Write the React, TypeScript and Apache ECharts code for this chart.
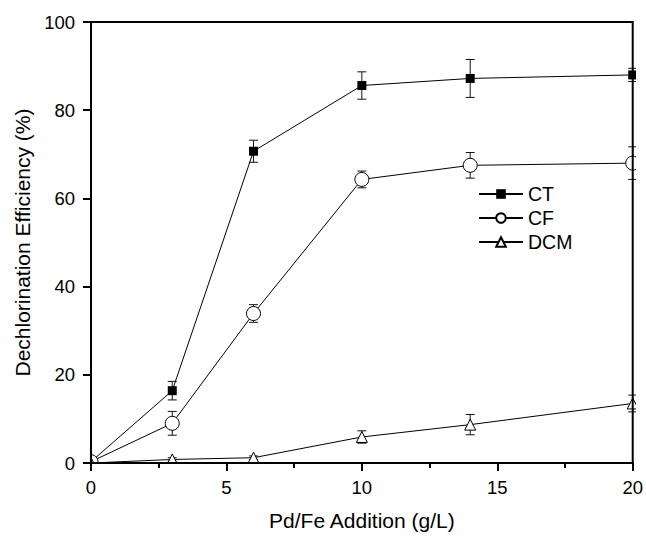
import React, { useEffect, useRef } from "react";
import * as echarts from "echarts";

const xValues = [0, 3, 6, 10, 14, 20];
const ctValues = [0.3, 16.4, 70.7, 85.6, 87.2, 88.0];
const ctErrors = [0, 2.1, 2.5, 3.1, 4.3, 1.5];
const cfValues = [0.3, 9.0, 33.9, 64.3, 67.5, 68.0];
const cfErrors = [0, 2.7, 2.0, 1.9, 2.9, 3.7];
const dcmValues = [0, 0.8, 1.2, 5.9, 8.7, 13.5];
const dcmErrors = [0, 0.4, 0.4, 1.4, 2.3, 1.9];
const seriesNames = ["CT", "CF", "DCM"];
const xTicks = [0, 5, 10, 15, 20];
const yTicks = [0, 20, 40, 60, 80, 100];

const FONT = "'Liberation Sans', Arial, sans-serif";

function pairs(vals: number[]) {
  return xValues.map((x, i) => [x, vals[i]]);
}
function errs(vals: number[], e: number[]) {
  return xValues
    .map((x, i) => [x, vals[i], vals[i] - e[i], vals[i] + e[i]])
    .filter((d, i) => e[i] > 0);
}

function errorSeries(vals: number[], e: number[]) {
  return {
    type: "custom",
    z: 1,
    silent: true,
    data: errs(vals, e),
    encode: { x: 0, y: [1, 2, 3] },
    renderItem: (params: any, api: any) => {
      const x = api.value(0);
      const lo = api.value(2);
      const hi = api.value(3);
      const top = api.coord([x, hi]);
      const bot = api.coord([x, lo]);
      const half = 4.5;
      const style = { stroke: "#111", lineWidth: 1 };
      return {
        type: "group",
        children: [
          { type: "line", shape: { x1: top[0], y1: top[1], x2: bot[0], y2: bot[1] }, style },
          { type: "line", shape: { x1: top[0] - half, y1: top[1], x2: top[0] + half, y2: top[1] }, style },
          { type: "line", shape: { x1: bot[0] - half, y1: bot[1], x2: bot[0] + half, y2: bot[1] }, style },
        ],
      };
    },
  };
}

export default function App() {
  const ref = useRef<HTMLDivElement>(null);
  useEffect(() => {
    if (!ref.current) return;
    const chart = echarts.init(ref.current, null, { renderer: "svg" });
    const white = { fill: "#fff" };
    chart.setOption({
      animation: false,
      backgroundColor: "#fff",
      grid: {
        left: 91,
        right: 11,
        top: 22,
        bottom: 74,
        show: true,
        z: 10,
        borderColor: "#000",
        borderWidth: 2,
        backgroundColor: "transparent",
      },
      legend: {
        data: seriesNames,
        orient: "vertical",
        left: 473,
        top: 179,
        z: 20,
        itemWidth: 44,
        itemHeight: 12,
        itemGap: 4,
        textStyle: { fontFamily: FONT, fontSize: 19.5, color: "#000" },
      },
      graphic: [
        { type: "rect", z: 5, silent: true, shape: { x: 0, y: 0, width: 90, height: 537 }, style: white },
        { type: "rect", z: 5, silent: true, shape: { x: 636, y: 0, width: 10, height: 537 }, style: white },
        { type: "rect", z: 5, silent: true, shape: { x: 0, y: 0, width: 646, height: 21 }, style: white },
        { type: "rect", z: 5, silent: true, shape: { x: 0, y: 464, width: 646, height: 73 }, style: white },
      ],
      xAxis: {
        type: "value",
        min: 0,
        max: 20,
        interval: 5,
        z: 10,
        name: "Pd/Fe Addition (g/L)",
        nameLocation: "middle",
        nameGap: 47,
        nameTextStyle: { fontFamily: FONT, fontSize: 21, color: "#000" },
        axisLine: { show: true, onZero: false, lineStyle: { color: "#000", width: 2 } },
        axisTick: { show: true, inside: false, length: 8, lineStyle: { color: "#000", width: 2 } },
        minorTick: { show: true, splitNumber: 2, length: 5, lineStyle: { color: "#000", width: 2 } },
        axisLabel: {
          fontFamily: FONT,
          fontSize: 18.5,
          color: "#000",
          margin: 15,
          formatter: (v: number) => (xTicks.includes(v) ? String(v) : ""),
        },
        splitLine: { show: false },
      },
      yAxis: {
        type: "value",
        min: 0,
        max: 100,
        interval: 20,
        z: 10,
        name: "Dechlorination Efficiency (%)",
        nameLocation: "middle",
        nameGap: 57,
        nameTextStyle: { fontFamily: FONT, fontSize: 21, color: "#000" },
        axisLine: { show: true, onZero: false, lineStyle: { color: "#000", width: 2 } },
        axisTick: { show: true, inside: false, length: 8, lineStyle: { color: "#000", width: 2 } },
        axisLabel: {
          fontFamily: FONT,
          fontSize: 18.5,
          color: "#000",
          margin: 16,
          formatter: (v: number) => (yTicks.includes(v) ? String(v) : ""),
        },
        splitLine: { show: false },
      },
      series: [
        errorSeries(ctValues, ctErrors),
        errorSeries(cfValues, cfErrors),
        errorSeries(dcmValues, dcmErrors),
        {
          name: "CT",
          type: "line",
          z: 3,
          data: pairs(ctValues),
          symbol: "rect",
          symbolSize: 9,
          showAllSymbol: true,
          clip: false,
          lineStyle: { color: "#000", width: 1 },
          itemStyle: { color: "#000", borderColor: "#000", borderWidth: 0 },
        },
        {
          name: "CF",
          type: "line",
          z: 3,
          data: pairs(cfValues),
          symbol: "circle",
          symbolSize: 14,
          showAllSymbol: true,
          clip: false,
          lineStyle: { color: "#000", width: 1 },
          itemStyle: { color: "#fff", borderColor: "#000", borderWidth: 1 },
        },
        {
          name: "DCM",
          type: "line",
          z: 3,
          data: pairs(dcmValues),
          symbol: "triangle",
          symbolSize: 11,
          showAllSymbol: true,
          clip: false,
          lineStyle: { color: "#000", width: 1 },
          itemStyle: { color: "#fff", borderColor: "#000", borderWidth: 1 },
        },
      ],
    });
    return () => chart.dispose();
  }, []);
  return (
    <div
      ref={ref}
      style={{ position: "fixed", left: 0, top: 0, width: 646, height: 537 }}
    />
  );
}
